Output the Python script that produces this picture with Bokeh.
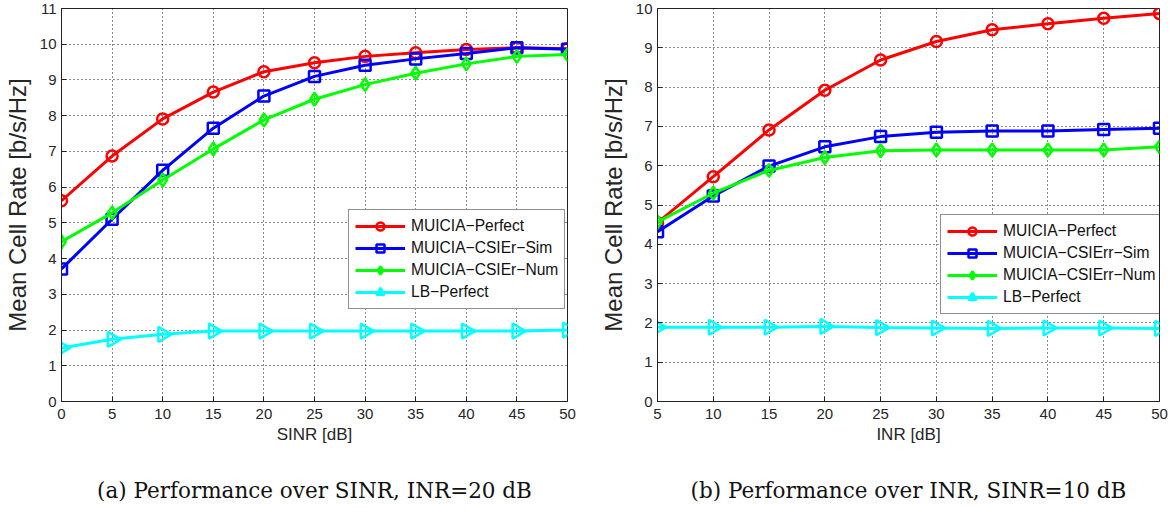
import math
from bokeh.plotting import figure
from bokeh.layouts import row
from bokeh.models import Legend, LegendItem, FixedTicker, Title
from bokeh.embed import file_html
from bokeh.resources import INLINE

# ---- Panel (a): performance over SINR, INR = 20 dB ----
sinr = [0, 5, 10, 15, 20, 25, 30, 35, 40, 45, 50]
a_perfect = [5.62, 6.87, 7.91, 8.66, 9.23, 9.48, 9.66, 9.76, 9.85, 9.9, 9.87]
a_csi_sim = [3.71, 5.1, 6.47, 7.65, 8.55, 9.1, 9.41, 9.59, 9.74, 9.9, 9.86]
a_csi_num = [4.47, 5.28, 6.2, 7.07, 7.88, 8.46, 8.87, 9.19, 9.45, 9.66, 9.71]
a_lb = [1.5, 1.74, 1.88, 1.97, 1.97, 1.97, 1.97, 1.97, 1.97, 1.97, 2.0]
a_labels = ["MUICIA\u2212Perfect", "MUICIA\u2212CSIEr\u2212Sim", "MUICIA\u2212CSIEr\u2212Num", "LB\u2212Perfect"]

# ---- Panel (b): performance over INR, SINR = 10 dB ----
inr = [5, 10, 15, 20, 25, 30, 35, 40, 45, 50]
b_perfect = [4.55, 5.72, 6.91, 7.92, 8.69, 9.16, 9.46, 9.61, 9.75, 9.87]
b_csi_sim = [4.32, 5.23, 5.99, 6.48, 6.74, 6.85, 6.88, 6.88, 6.92, 6.95]
b_csi_num = [4.57, 5.3, 5.88, 6.21, 6.38, 6.4, 6.4, 6.4, 6.4, 6.48]
b_lb = [1.89, 1.89, 1.89, 1.91, 1.88, 1.87, 1.86, 1.87, 1.87, 1.86]
b_labels = ["MUICIA\u2212Perfect", "MUICIA\u2212CSIErr\u2212Sim", "MUICIA\u2212CSIErr\u2212Num", "LB\u2212Perfect"]

colors = ["#ff0000", "#0000ff", "#00ff00", "#00ffff"]
markers = ["circle", "square", "diamond", "triangle"]
angles = [0, 0, 0, -math.pi / 2]
sizes = [11, 11, 13, 15]

SANS = "Liberation Sans"
SERIF = "DejaVu Serif"


def make_panel(xs, series, labels, xrange_, ymax, xlabel, caption, width,
               border_left, border_right, legend_loc):
    p = figure(width=width, height=506, output_backend="svg", toolbar_location=None,
               x_range=xrange_, y_range=(0, ymax),
               min_border_left=border_left, min_border_right=border_right,
               min_border_top=8, min_border_bottom=105)
    p.outline_line_color = "#222222"
    p.outline_line_width = 1
    p.background_fill_color = "white"

    for ax in (p.xaxis[0], p.yaxis[0]):
        ax.major_tick_in = 5
        ax.major_tick_out = 0
        ax.minor_tick_in = 0
        ax.minor_tick_out = 0
        ax.axis_line_color = "#222222"
        ax.major_tick_line_color = "#222222"
        ax.major_label_text_font = SANS
        ax.major_label_text_font_size = "15px"
        ax.major_label_text_color = "#262626"
        ax.axis_label_text_font = SANS
        ax.axis_label_text_font_style = "normal"
        ax.axis_label_text_color = "#262626"

    p.xaxis.ticker = FixedTicker(ticks=list(range(int(xrange_[0]), int(xrange_[1]) + 1, 5)))
    p.yaxis.ticker = FixedTicker(ticks=list(range(0, ymax + 1)))
    p.xaxis.axis_label = xlabel
    p.xaxis.axis_label_text_font_size = "17px"
    p.xaxis.axis_label_standoff = 3
    p.xaxis.major_label_standoff = 7
    p.yaxis.axis_label = "Mean Cell Rate [b/s/Hz]"
    p.yaxis.axis_label_text_font_size = "24px"
    p.yaxis.axis_label_standoff = 6
    p.yaxis.major_label_standoff = 5

    for g in (p.xgrid[0], p.ygrid[0]):
        g.grid_line_color = "black"
        g.grid_line_dash = "1 3"
        g.grid_line_width = 1
        g.grid_line_alpha = 0.9

    items = []
    for ys, lab, c, m, ang, sz in zip(series, labels, colors, markers, angles, sizes):
        r1 = p.line(xs, ys, line_color=c, line_width=3)
        r2 = p.scatter(xs, ys, marker=m, size=sz, angle=ang, line_color=c,
                       line_width=2.5, fill_color=None)
        items.append(LegendItem(label=lab, renderers=[r1, r2]))

    leg = Legend(items=items, location=legend_loc)
    leg.label_text_font = SANS
    leg.label_text_font_size = "15.6px"
    leg.label_text_color = "#111111"
    leg.glyph_width = 50
    leg.glyph_height = 20
    leg.label_height = 20
    leg.spacing = 2
    leg.padding = 6
    leg.margin = 0
    leg.label_standoff = 6
    leg.border_line_color = "#222222"
    leg.border_line_width = 1
    leg.background_fill_alpha = 1
    p.add_layout(leg)

    spacer = Title(text=" ", text_font_size="24px", standoff=0)
    p.add_layout(spacer, "below")
    cap = Title(text=caption, align="center", text_font=SERIF, text_font_size="21.5px",
                text_font_style="normal", text_color="#111111", standoff=0)
    p.add_layout(cap, "below")
    return p


pa = make_panel(sinr, [a_perfect, a_csi_sim, a_csi_num, a_lb], a_labels, (0, 50), 11,
                "SINR [dB]", "(a) Performance over SINR, INR=20 dB",
                594, 61, 27, (287, 92))
pb = make_panel(inr, [b_perfect, b_csi_sim, b_csi_num, b_lb], b_labels, (5, 50), 10,
                "INR [dB]", "(b) Performance over INR, SINR=10 dB",
                581, 63, 16, (283, 87))

layout = row(pa, pb)
open("out.html", "w").write(file_html(layout, INLINE))
